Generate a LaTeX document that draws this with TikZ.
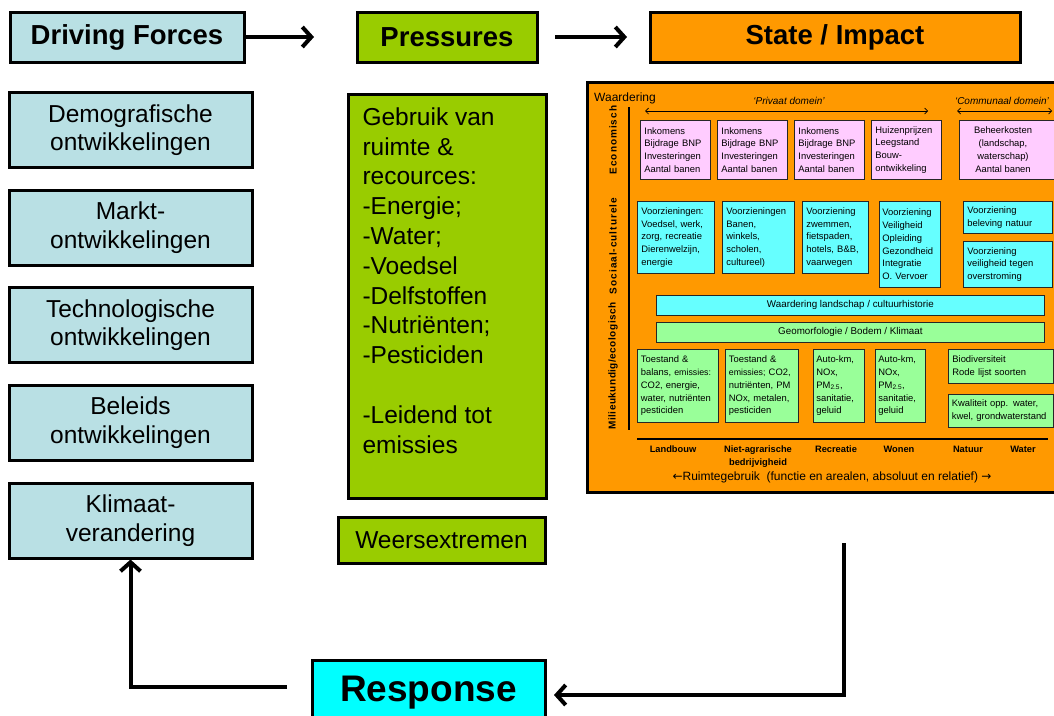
\documentclass[tikz,border=0pt]{standalone}
\usepackage{fontspec}
\setmainfont{Liberation Sans}
\newfontfamily\arrowfont{DejaVu Sans}
\newfontfamily\lsA[LetterSpace=10]{Liberation Sans}
\newfontfamily\lsB[LetterSpace=5]{Liberation Sans}
\usetikzlibrary{arrows.meta}
\definecolor{dfblue}{RGB}{185,224,228}
\definecolor{prgreen}{RGB}{153,204,0}
\definecolor{storange}{RGB}{255,153,0}
\definecolor{pinkbox}{RGB}{255,204,255}
\definecolor{cyanbox}{RGB}{102,255,255}
\definecolor{greenbox}{RGB}{153,255,153}
\definecolor{respcyan}{RGB}{0,255,255}
\begin{document}
\begin{tikzpicture}[x=1pt,y=-1pt,
  hd/.style={draw=black, line width=3pt, font=\fontsize{27.5}{33}\selectfont\bfseries, inner sep=0pt},
  lbox/.style={draw=black, line width=3pt, fill=dfblue, font=\fontsize{24.5}{28.5}\selectfont, align=center, inner sep=0pt, minimum width=243pt, minimum height=75pt},
  ibox/.style={draw=black!85, line width=0.8pt, inner xsep=4pt, inner ysep=0pt, font=\fontsize{9.4}{12.8}\selectfont, align=left, anchor=north west},
  band/.style={draw=black!85, line width=0.8pt, inner sep=0pt, font=\fontsize{9.8}{11}\selectfont, anchor=north west, minimum width=388pt, minimum height=20pt},
  conn/.style={line width=4pt, -{Straight Barb[length=9pt,width=20pt]}},
  dbl/.style={line width=0.7pt, {Straight Barb[length=3pt,width=6pt]}-{Straight Barb[length=3pt,width=6pt]}},
  lab/.style={font=\fontsize{9.3}{13}\selectfont\bfseries, align=center, inner sep=0pt},
  rotlab/.style={rotate=90, inner sep=0pt}
]
\useasboundingbox (0,0) rectangle (1054,715);
\fill[white] (0,0) rectangle (1054,715);

% headings
\node[hd, fill=dfblue, minimum width=234pt, minimum height=50pt] (df) at (127,37) {Driving Forces};
\node[hd, fill=prgreen, minimum width=180pt, minimum height=50pt] (pr) at (447,37) {Pressures};
\node[hd, fill=storange, minimum width=370pt, minimum height=50pt] (st) at (835,37) {State / Impact};
\coordinate (a1e) at (314,37);
\draw[conn] (df.east) -- (a1e);
\coordinate (a2s) at (555,37);
\coordinate (a2e) at (627,37);
\draw[conn] (a2s) -- (a2e);

% driving forces column
\node[lbox] (demo) at (130.5,130) {Demografische\\ontwikkelingen};
\node[lbox] (markt) at (130.5,227.5) {Markt-\\ontwikkelingen};
\node[lbox] (techn) at (130.5,325) {Technologische\\ontwikkelingen};
\node[lbox] (beleid) at (130.5,422.5) {Beleids\\ontwikkelingen};
\node[lbox] (klim) at (130.5,520.5) {Klimaat-\\verandering};

% pressures column
\node[draw=black, line width=3pt, fill=prgreen, anchor=north west, inner xsep=14pt, inner ysep=12pt, font=\fontsize{24.5}{29.8}\selectfont] (pbig) at (347,93)
  {\parbox[c][380pt][t]{170pt}{\raggedright\vspace*{1pt}Gebruik van\\ruimte \&\\recources:\\-Energie;\\-Water;\\-Voedsel\\-Delfstoffen\\-Nutriënten;\\-Pesticiden\\[29.8pt]-Leidend tot\\emissies}};
\node[draw=black, line width=3pt, fill=prgreen, minimum width=207pt, minimum height=46pt, inner sep=0pt, font=\fontsize{24.5}{29}\selectfont] (weer) at (441.5,540) {Weersextremen};

% state / impact panel
\fill[black!35] (589,84) rectangle (1070,494);
\node[draw=black, line width=3pt, fill=storange, anchor=north west, minimum width=484pt, minimum height=410pt, inner sep=0pt] (simp) at (586,81) {};
\node[anchor=base west, font=\fontsize{12}{14}\selectfont, inner sep=0pt] (waard) at (594,101) {Waardering};
\node[font=\fontsize{10}{12}\selectfont\itshape, inner sep=0pt] (priv) at (789,101) {‘Privaat domein’};
\node[font=\fontsize{10}{12}\selectfont\itshape, inner sep=0pt] (comm) at (1002,101) {‘Communaal domein’};
\draw[dbl] (645,111) -- (928,111);
\draw[dbl] (957,111) -- (1052,111);
\draw[line width=1.2pt] (629,107) -- (629,430);
\draw[line width=1.2pt] (637,439) -- (1048,439);
\node[rotlab, font={\fontsize{10}{12}\selectfont\lsA\bfseries}] (econ) at (613,140) {Economisch};
\node[rotlab, font={\fontsize{10}{12}\selectfont\lsA\bfseries}] (soc) at (613,246) {Sociaal-culturele};
\node[rotlab, font={\fontsize{10}{12}\selectfont\lsB\bfseries}] (mil) at (613,366) {Milieukundig/ecologisch};

% economisch row
\node[ibox, fill=pinkbox, minimum width=70pt, minimum height=59pt, text width=62pt] (e1) at (640,120) {Inkomens\\Bijdrage BNP\\Investeringen\\Aantal banen};
\node[ibox, fill=pinkbox, minimum width=70pt, minimum height=59pt, text width=62pt] (e2) at (717,120) {Inkomens\\Bijdrage BNP\\Investeringen\\Aantal banen};
\node[ibox, fill=pinkbox, minimum width=70pt, minimum height=59pt, text width=62pt] (e3) at (794,120) {Inkomens\\Bijdrage BNP\\Investeringen\\Aantal banen};
\node[ibox, fill=pinkbox, minimum width=70pt, minimum height=59pt, text width=62pt] (e4) at (871,120) {Huizenprijzen\\Leegstand\\Bouw-\\ontwikkeling};
\draw[draw=black!85, line width=0.8pt, fill=pinkbox] (959,120) rectangle (1070,179);
\node[font=\fontsize{9.4}{12.8}\selectfont, align=center, inner sep=0pt] (e5) at (1003,149.5) {Beheerkosten\\(landschap,\\waterschap)\\Aantal banen};

% sociaal-culturele row
\node[ibox, fill=cyanbox, minimum width=77pt, minimum height=72pt, text width=69pt] (s1) at (637,201) {Voorzieningen:\\Voedsel, werk,\\zorg, recreatie\\Dierenwelzijn,\\energie};
\node[ibox, fill=cyanbox, minimum width=72pt, minimum height=72pt, text width=64pt] (s2) at (722,201) {Voorzieningen\\Banen,\\winkels,\\scholen,\\cultureel)};
\node[ibox, fill=cyanbox, minimum width=66pt, minimum height=72pt, text width=58pt] (s3) at (802,201) {Voorziening\\zwemmen,\\fietspaden,\\hotels, B\&B,\\vaarwegen};
\node[ibox, fill=cyanbox, minimum width=61pt, minimum height=86pt, text width=55pt, inner xsep=3pt] (s4) at (879,201) {Voorziening\\Veiligheid\\Opleiding\\Gezondheid\\Integratie\\O. Vervoer};
\node[ibox, fill=cyanbox, minimum width=89pt, minimum height=32pt, text width=81pt] (s5) at (963,201) {Voorziening\\beleving natuur};
\node[ibox, fill=cyanbox, minimum width=89pt, minimum height=46pt, text width=81pt] (s6) at (963,241) {Voorziening\\veiligheid tegen\\overstroming};
\node[band, fill=cyanbox] (wl) at (656,295) {Waardering landschap / cultuurhistorie};
\node[band, fill=greenbox] (geo) at (656,322) {Geomorfologie / Bodem / Klimaat};

% milieukundig row
\node[ibox, fill=greenbox, minimum width=81pt, minimum height=73pt, text width=74pt, inner xsep=3.5pt] (m1) at (637,349) {Toestand \&\\balans, {\fontsize{8.8}{12.8}\selectfont emissies:}\\CO2, energie,\\water, nutriënten\\pesticiden};
\node[ibox, fill=greenbox, minimum width=73pt, minimum height=73pt, text width=66pt, inner xsep=3.5pt] (m2) at (725,349) {Toestand \&\\{\fontsize{8.8}{12.8}\selectfont emissies;} CO2,\\nutriënten, PM\\NOx, metalen,\\pesticiden};
\node[ibox, fill=greenbox, minimum width=51pt, minimum height=73pt, text width=45pt, inner xsep=3pt] (m3) at (813,349) {Auto-km,\\NOx,\\PM\textsubscript{2.5},\\sanitatie,\\geluid};
\node[ibox, fill=greenbox, minimum width=50pt, minimum height=73pt, text width=44pt, inner xsep=3pt] (m4) at (875,349) {Auto-km,\\NOx,\\PM\textsubscript{2.5},\\sanitatie,\\geluid};
\node[ibox, fill=greenbox, minimum width=105pt, minimum height=34pt, text width=97pt] (m5) at (948,349) {Biodiversiteit\\Rode lijst soorten};
\node[ibox, fill=greenbox, minimum width=105pt, minimum height=33pt, text width=98pt, inner xsep=3.5pt] (m6) at (948,394) {Kwaliteit opp. water,\\kwel, grondwaterstand};

% land use labels
\node[lab] (lb) at (673,449) {Landbouw};
\node[lab] (nab) at (758,456.5) {Niet-agrarische\\bedrijvigheid};
\node[lab] (rec) at (836,449) {Recreatie};
\node[lab] (won) at (899,449) {Wonen};
\node[lab] (nat) at (968,449) {Natuur};
\node[lab] (wat) at (1023,449) {Water};
\node[font=\fontsize{12}{14}\selectfont, inner sep=0pt] (ruimte) at (832,477) {{\arrowfont ←}Ruimtegebruik\ \ (functie en arealen, absoluut en relatief) {\arrowfont →}};

% response
\node[draw=black, line width=3pt, fill=respcyan, minimum width=233pt, minimum height=66pt, inner sep=0pt, font=\fontsize{37}{42}\selectfont\bfseries] (resp) at (428.5,693) {Response};
\coordinate (fbtop) at (844,543);
\coordinate (fbend) at (554,695);
\draw[conn] (fbtop) |- (fbend);
\coordinate (rbs) at (287,687);
\draw[conn] (rbs) -| (klim.south);
\end{tikzpicture}
\end{document}
